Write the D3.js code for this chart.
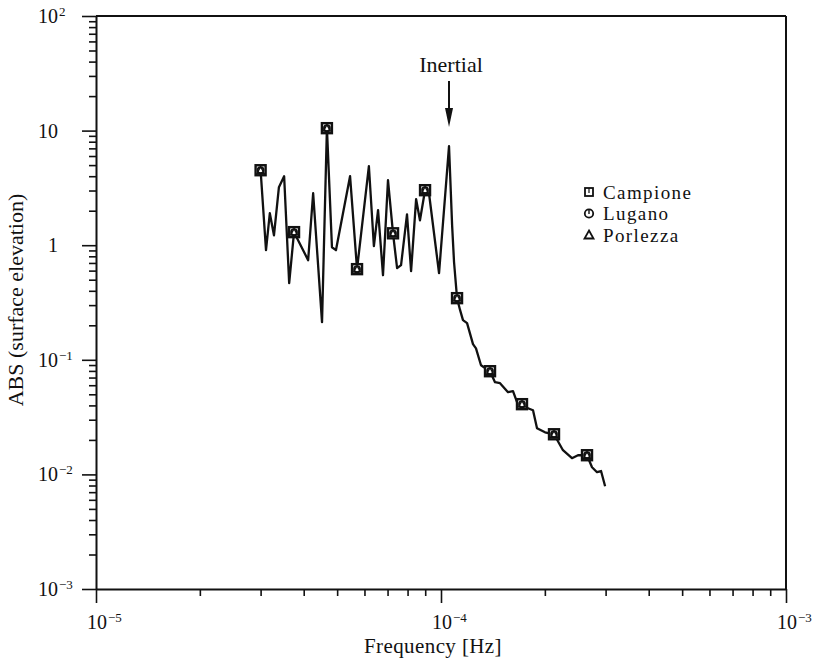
<!DOCTYPE html>
<html>
<head>
<meta charset="utf-8">
<script src="https://cdn.jsdelivr.net/npm/d3@7"></script>
<style>
  body { margin: 0; background: #fff; }
  text { font-family: "Liberation Serif", "DejaVu Serif", serif; fill: #111; }
</style>
</head>
<body>
<script>
// spectrum
const freq = [
  3.0e-5, 3.11e-5, 3.19e-5, 3.28e-5, 3.39e-5, 3.51e-5, 3.63e-5, 3.75e-5, 4.12e-5, 4.26e-5,
  4.52e-5, 4.67e-5, 4.83e-5, 4.96e-5, 5.45e-5, 5.71e-5, 6.18e-5, 6.39e-5, 6.57e-5, 6.79e-5,
  7.02e-5, 7.26e-5, 7.46e-5, 7.66e-5, 7.97e-5, 8.19e-5, 8.47e-5, 8.69e-5, 8.99e-5, 9.23e-5,
  9.87e-5, 1.055e-4, 1.077e-4, 1.091e-4, 1.113e-4, 1.136e-4, 1.158e-4, 1.19e-4, 1.238e-4, 1.263e-4,
  1.306e-4, 1.387e-4, 1.434e-4, 1.483e-4, 1.564e-4, 1.617e-4, 1.661e-4, 1.717e-4, 1.787e-4, 1.848e-4,
  1.898e-4, 2.002e-4, 2.126e-4, 2.257e-4, 2.397e-4, 2.495e-4, 2.65e-4, 2.74e-4, 2.833e-4, 2.91e-4,
  2.99e-4
];
const amp = [
  4.51, 0.905, 1.90, 1.22, 3.21, 4.0, 0.466, 1.30, 0.74, 2.84,
  0.213, 10.5, 0.96, 0.905, 4.0, 0.618, 4.89, 0.98, 2.02, 0.547,
  3.69, 1.27, 0.63, 0.67, 1.86, 0.593, 2.52, 1.65, 3.02, 2.84,
  0.57, 7.31, 1.49, 0.71, 0.345, 0.271, 0.222, 0.209, 0.137, 0.126,
  0.0897, 0.0795, 0.0638, 0.0625, 0.0522, 0.0532, 0.0427, 0.041, 0.0378, 0.0363,
  0.0253, 0.0233, 0.0224, 0.01626, 0.01385, 0.01471, 0.0147, 0.01155, 0.01045, 0.0107,
  0.00789
];
// points where the three stations are marked
const markerIdx = [0, 7, 11, 15, 21, 28, 34, 41, 47, 52, 56];

const stations = ["Campione", "Lugano", "Porlezza"];

const yTickVals = [1e2, 10, 1, 1e-1, 1e-2, 1e-3];
const yTickBase = ["10", "10", "1", "10", "10", "10"];
const yTickExp = ["2", "", "", "\u22121", "\u22122", "\u22123"];
const xTickVals = [1e-5, 1e-4, 1e-3];
const xTickBase = ["10", "10", "10"];
const xTickExp = ["\u22125", "\u22124", "\u22123"];

const inertialFreq = 1.055e-4;

const width = 817, height = 658;
const padL = 96, padR = 786, padT = 16, padB = 589;

const svg = d3.select("body").append("svg")
  .attr("width", width)
  .attr("height", height);

const x = d3.scaleLog().domain([1e-5, 1e-3]).range([padL, padR]);
const y = d3.scaleLog().domain([1e-3, 1e2]).range([padB, padT]);

// minor ticks
const minorX = [], minorY = [];
for (let e = -5; e < -3; e++) for (let k = 2; k <= 9; k++) minorX.push(k * Math.pow(10, e));
for (let e = -3; e < 2; e++) for (let k = 2; k <= 9; k++) minorY.push(k * Math.pow(10, e));

function styleAxis(g) {
  g.selectAll("path").attr("stroke", "#111").attr("stroke-width", 2);
  g.selectAll("line").attr("stroke", "#111").attr("stroke-width", 1.6);
  g.selectAll("text").remove();
}

svg.append("g")
  .attr("transform", `translate(0,${padB})`)
  .call(d3.axisBottom(x).tickValues(minorX).tickSize(7).tickSizeOuter(0))
  .call(styleAxis);
svg.append("g")
  .attr("transform", `translate(0,${padB})`)
  .call(d3.axisBottom(x).tickValues(xTickVals).tickSize(14).tickSizeOuter(0))
  .call(styleAxis)
  .call(g => g.select("path").remove());

svg.append("g")
  .attr("transform", `translate(${padL},0)`)
  .call(d3.axisLeft(y).tickValues(minorY).tickSize(7).tickSizeOuter(0))
  .call(styleAxis);
svg.append("g")
  .attr("transform", `translate(${padL},0)`)
  .call(d3.axisLeft(y).tickValues(yTickVals).tickSize(14).tickSizeOuter(0))
  .call(styleAxis)
  .call(g => g.select("path").remove());

// frame top and right
svg.append("line").attr("x1", padL).attr("x2", padR).attr("y1", padT).attr("y2", padT)
  .attr("stroke", "#111").attr("stroke-width", 2);
svg.append("line").attr("x1", padR).attr("x2", padR).attr("y1", padT).attr("y2", padB)
  .attr("stroke", "#111").attr("stroke-width", 2);

// power-of-ten label as one text: base + raised exponent
function powLabel(base, exp, yy) {
  const t = svg.append("text").attr("y", yy).style("font-size", "20px");
  const b = t.append("tspan").text(base);
  if (exp) {
    t.append("tspan").attr("dx", 1).attr("dy", -7).style("font-size", "13px").text(exp);
  }
  return { t: t, w: b.node().getComputedTextLength() };
}

// y tick labels, base right-aligned at x=58
yTickVals.forEach((v, i) => {
  const l = powLabel(yTickBase[i], yTickExp[i], y(v) + 7);
  l.t.attr("x", 58 - l.w);
});

// x tick labels, base centred under tick
xTickVals.forEach((v, i) => {
  const l = powLabel(xTickBase[i], xTickExp[i], 629);
  l.t.attr("x", x(v) + 1 - l.w / 2);
});

// axis titles
svg.append("text")
  .attr("x", 433).attr("y", 653)
  .attr("text-anchor", "middle")
  .style("font-size", "21px")
  .style("letter-spacing", "0.4px")
  .text("Frequency [Hz]");

svg.append("text")
  .attr("transform", "translate(23,300) rotate(-90)")
  .attr("text-anchor", "middle")
  .style("font-size", "22px")
  .text("ABS (surface elevation)");

// spectrum line
const data = freq.map((f, i) => ({ f: f, a: amp[i] }));
svg.append("path")
  .datum(data)
  .attr("fill", "none")
  .attr("stroke", "#111")
  .attr("stroke-width", 2.3)
  .attr("stroke-linejoin", "round")
  .attr("d", d3.line().x(d => x(d.f)).y(d => y(d.a)));

// station markers (all three overlap)
const marks = svg.append("g").selectAll("g")
  .data(markerIdx.map(i => data[i]))
  .enter()
  .append("g")
  .attr("transform", d => `translate(${x(d.f)},${y(d.a)})`);
marks.append("rect")
  .attr("x", -5).attr("y", -5).attr("width", 10).attr("height", 10)
  .attr("fill", "#fff").attr("stroke", "#111").attr("stroke-width", 2.4);
marks.append("circle")
  .attr("r", 3).attr("fill", "none").attr("stroke", "#111").attr("stroke-width", 1.8);
marks.append("path")
  .attr("d", "M0,-3.5L3.5,3L-3.5,3Z")
  .attr("fill", "none").attr("stroke", "#111").attr("stroke-width", 1.4);

// inertial arrow
const ax = x(inertialFreq);
svg.append("text")
  .attr("x", ax + 2).attr("y", 72)
  .attr("text-anchor", "middle")
  .style("font-size", "22px")
  .text("Inertial");
svg.append("line")
  .attr("x1", ax).attr("x2", ax).attr("y1", 81).attr("y2", 112)
  .attr("stroke", "#111").attr("stroke-width", 2);
svg.append("path")
  .attr("d", `M${ax - 4},${108}L${ax + 4},${108}L${ax},${127}Z`)
  .attr("fill", "#111");

// legend
const legend = svg.append("g").attr("id", "legend")
  .selectAll("g")
  .data(stations)
  .enter()
  .append("g")
  .attr("transform", (d, i) => `translate(589,${192 + i * 21.5})`);

legend.each(function(d, i) {
  const g = d3.select(this);
  if (i === 0) {
    g.append("rect").attr("x", -4).attr("y", -4).attr("width", 8).attr("height", 8)
      .attr("fill", "none").attr("stroke", "#111").attr("stroke-width", 1.8);
    g.append("line").attr("x1", 0).attr("x2", 0).attr("y1", -4).attr("y2", 1)
      .attr("stroke", "#111").attr("stroke-width", 1.2);
  } else if (i === 1) {
    g.append("circle").attr("r", 4.2)
      .attr("fill", "none").attr("stroke", "#111").attr("stroke-width", 1.8);
    g.append("line").attr("x1", 0).attr("x2", 0).attr("y1", -4).attr("y2", 0.5)
      .attr("stroke", "#111").attr("stroke-width", 1.4);
  } else {
    g.append("path").attr("d", "M0,-4.5L4.5,3.5L-4.5,3.5Z")
      .attr("fill", "none").attr("stroke", "#111").attr("stroke-width", 1.8);
  }
  g.append("text")
    .attr("x", 14).attr("y", 6.5)
    .style("font-size", "19px")
    .style("letter-spacing", "1.4px")
    .text(d);
});
</script>
</body>
</html>
